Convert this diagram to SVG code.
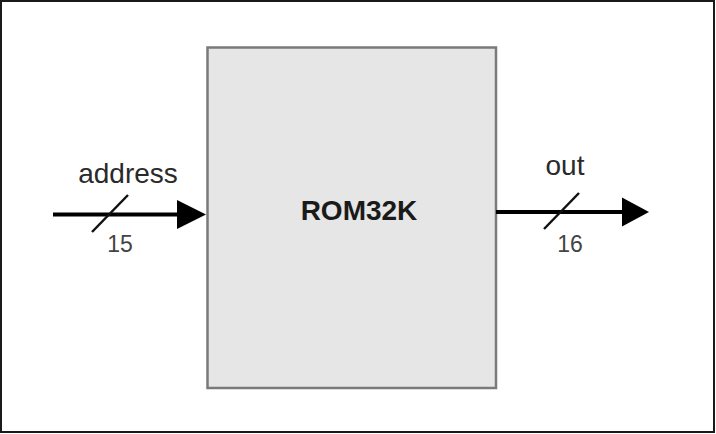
<svg xmlns="http://www.w3.org/2000/svg" width="716" height="434" viewBox="0 0 716 434">
  <defs>
    <style>
      .frame { fill: #ffffff; stroke: #1a1a1a; stroke-width: 2; }
      .chip { fill: #e6e6e6; stroke: #7a7a7a; stroke-width: 2.5; }
      .wire { stroke: #000000; stroke-width: 4; fill: none; }
      .tick { stroke: #111111; stroke-width: 2.5; fill: none; }
      .head { fill: #000000; }
      .lbl { font-family: "Liberation Sans", Arial, sans-serif; font-size: 28px; fill: #2a2a2a; text-anchor: middle; }
      .width { font-family: "Liberation Sans", Arial, sans-serif; font-size: 23px; fill: #444444; text-anchor: middle; }
      .title { font-family: "Liberation Sans", Arial, sans-serif; font-size: 28px; font-weight: bold; fill: #1a1a1a; text-anchor: middle; }
    </style>
  </defs>

  <rect class="frame" x="1" y="1" width="713" height="431"/>

  <g id="rom32k">
    <rect class="chip" x="207.5" y="47.5" width="288.5" height="340.5"/>
    <text class="title" x="359" y="220">ROM32K</text>
  </g>

  <g id="connectors">
    <g id="address-bus">
      <line class="wire" x1="53" y1="214.5" x2="180" y2="214.5"/>
      <polygon class="head" points="177,200 206,214.5 177,229"/>
      <line class="tick" x1="92" y1="232" x2="128" y2="195"/>
    </g>
    <g id="out-bus">
      <line class="wire" x1="496" y1="212" x2="625" y2="212"/>
      <polygon class="head" points="622,197.5 649,212 622,226.5"/>
      <line class="tick" x1="544" y1="229" x2="579" y2="193"/>
    </g>
  </g>

  <g id="labels">
    <text class="lbl" x="128" y="183">address</text>
    <text class="width" x="120" y="252">15</text>
    <text class="lbl" x="565" y="175">out</text>
    <text class="width" x="570" y="252">16</text>
  </g>
</svg>
